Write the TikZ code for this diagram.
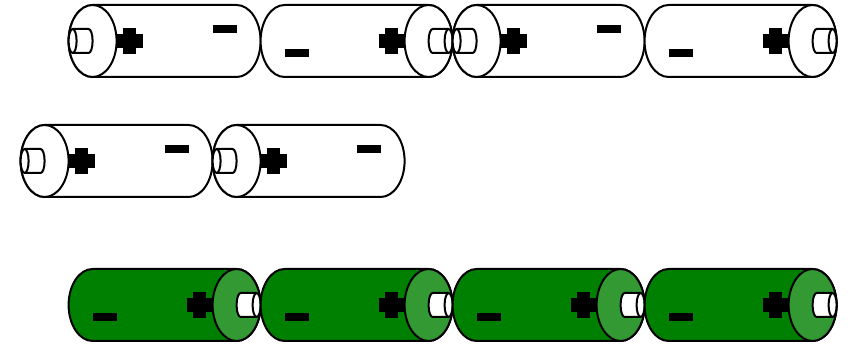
\documentclass[tikz,border=0pt]{standalone}
\definecolor{bodygreen}{HTML}{008000}
\definecolor{capgreenc}{HTML}{339933}
\tikzset{
  x=1pt,y=1pt,
  outline/.style={draw=black,line width=2pt,line join=round},
  cellwhite/.style={outline,fill=white},
  cellgreen/.style={outline,fill=bodygreen},
  capgreen/.style={outline,fill=capgreenc},
}
% #1 x of left end, #2 y of axis (from top), #3 rotation, #4 body style, #5 cap style
\newcommand{\battery}[5]{%
  \begin{scope}[shift={(#1-0.4,344-#2)},rotate=#3]
    \path[#4] (24,36) arc[start angle=90,end angle=270,x radius=24,y radius=36]
      -- (168,-36) arc[start angle=-90,end angle=90,x radius=24,y radius=36] -- cycle;
    \fill[black] (24,-16) rectangle (48,-8);
    \fill[black] (118,-7) rectangle (144,7);
    \fill[black] (124.5,-13) rectangle (137.5,13);
    \path[#5] (168,0) circle[x radius=24,y radius=36];
    \path[cellwhite] (188,12) -- (172,12) arc[start angle=90,end angle=270,x radius=4,y radius=12] -- (188,-12);
    \path[cellwhite] (188,0) circle[x radius=4,y radius=12];
  \end{scope}}
\begin{document}
\begin{tikzpicture}
\useasboundingbox (0,0) rectangle (852,344);
\fill[white] (0,0) rectangle (852,344);
% top row
\battery{261}{41}{180}{cellwhite}{cellwhite}
\battery{261}{41}{0}{cellwhite}{cellwhite}
\battery{645}{41}{180}{cellwhite}{cellwhite}
\battery{645}{41}{0}{cellwhite}{cellwhite}
% middle row
\battery{213}{161}{180}{cellwhite}{cellwhite}
\battery{405}{161}{180}{cellwhite}{cellwhite}
% bottom row
\battery{69}{305}{0}{cellgreen}{capgreen}
\battery{261}{305}{0}{cellgreen}{capgreen}
\battery{453}{305}{0}{cellgreen}{capgreen}
\battery{645}{305}{0}{cellgreen}{capgreen}
\end{tikzpicture}
\end{document}
